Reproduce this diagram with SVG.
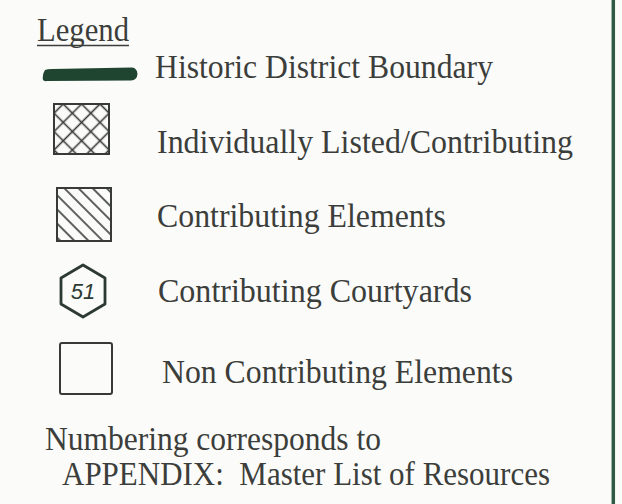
<svg xmlns="http://www.w3.org/2000/svg" width="622" height="504" viewBox="0 0 622 504">
<style>
  .t { font-family: "Liberation Serif", "Times New Roman", serif; font-size: 34px; fill: #3b3e3b; }
  .box { fill: none; stroke: #383a38; stroke-width: 2; }
</style>
<defs>
  <pattern id="cross" width="13" height="13" patternUnits="userSpaceOnUse" patternTransform="translate(54,104) rotate(45)">
    <line x1="0" y1="6.5" x2="13" y2="6.5" stroke="#383a38" stroke-width="1.6"/>
    <line x1="6.5" y1="0" x2="6.5" y2="13" stroke="#383a38" stroke-width="1.6"/>
  </pattern>
  <pattern id="diag" width="10" height="10" patternUnits="userSpaceOnUse" patternTransform="translate(57,188) rotate(45)">
    <line x1="0" y1="5" x2="10" y2="5" stroke="#383a38" stroke-width="1.6"/>
  </pattern>
</defs>
<rect width="622" height="504" fill="#fbfbf9"/>
<line x1="613.3" y1="0" x2="613.3" y2="504" stroke="#2e5a46" stroke-width="3.5"/>

<g id="legend-title">
  <text class="t" x="37" y="41" textLength="92" lengthAdjust="spacingAndGlyphs">Legend</text>
  <line x1="37" y1="45.5" x2="129" y2="45.5" stroke="#3b3e3b" stroke-width="1.6"/>
</g>

<g id="item-boundary">
  <path d="M45,70 Q42,75 43,80 Q44,81.5 47,81 L131,80.5 Q137,80 137.5,74 Q137,68 132,67.5 L52,69 Q47,69 45,70 Z" fill="#1f4531"/>
  <text class="t" x="155" y="78" textLength="338" lengthAdjust="spacingAndGlyphs">Historic District Boundary</text>
</g>

<g id="item-individual">
  <rect x="54" y="104" width="55" height="50" fill="url(#cross)"/>
  <rect class="box" x="54" y="104" width="55" height="50"/>
  <text class="t" x="157" y="153" textLength="416" lengthAdjust="spacingAndGlyphs">Individually Listed/Contributing</text>
</g>

<g id="item-contributing">
  <rect x="57" y="188" width="54" height="53" fill="url(#diag)"/>
  <rect class="box" x="57" y="188" width="54" height="53"/>
  <text class="t" x="157" y="227" textLength="289" lengthAdjust="spacingAndGlyphs">Contributing Elements</text>
</g>

<g id="item-courtyards">
  <polygon points="83,265 105,278 105,304 83,317 61,304 61,278" fill="none" stroke="#2c3a31" stroke-width="2.8" stroke-linejoin="round"/>
  <text x="83" y="299" text-anchor="middle" font-family="Liberation Sans, Arial, sans-serif" font-style="italic" font-size="22" fill="#2c3a31">51</text>
  <text class="t" x="158" y="302" textLength="314" lengthAdjust="spacingAndGlyphs">Contributing Courtyards</text>
</g>

<g id="item-noncontributing">
  <rect class="box" x="60" y="343" width="52" height="51" rx="2"/>
  <text class="t" x="162" y="383" textLength="351" lengthAdjust="spacingAndGlyphs">Non Contributing Elements</text>
</g>

<g id="note">
  <text class="t" x="45" y="450" textLength="336" lengthAdjust="spacingAndGlyphs">Numbering corresponds to</text>
  <text class="t" x="62" y="485" textLength="488" lengthAdjust="spacingAndGlyphs" xml:space="preserve">APPENDIX:  Master List of Resources</text>
</g>
</svg>
